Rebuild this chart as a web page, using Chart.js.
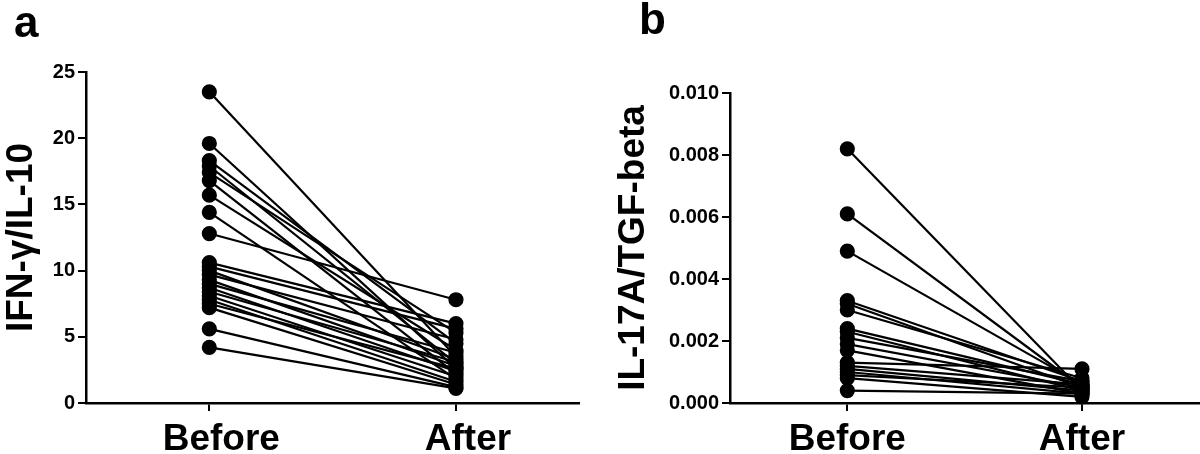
<!DOCTYPE html>
<html lang="en">
<head>
<meta charset="UTF-8">
<title>IFN-γ/IL-10 and IL-17A/TGF-beta before and after</title>
<script src="https://cdn.jsdelivr.net/npm/chart.js"></script>
<style>
  body { margin: 0; background: #fff; }
  #wrap { position: relative; width: 1200px; height: 454px; overflow: hidden; }
  canvas { position: absolute; top: 0; }
  .panel { position: absolute; font: bold 44px "Liberation Sans", Arial, sans-serif; color: #000; }
</style>
</head>
<body>
<div id="wrap">
  <canvas id="chartA" width="588" height="454" style="left:0"></canvas>
  <canvas id="chartB" width="608" height="454" style="left:600px"></canvas>
  <div class="panel" style="left:14px; top:-3px">a</div>
  <div class="panel" style="left:639px; top:-6px">b</div>
</div>
<script>
// categories on the x axis
const groups = ['Before', 'After'];

// panel a: IFN-γ/IL-10, one pair per patient
const ifnBefore = [23.5, 19.6, 18.3, 17.9, 17.4, 16.8, 15.7, 14.4, 12.8, 10.6, 10.3, 10.0,
                   9.7, 9.3, 9.0, 8.7, 8.4, 8.1, 7.8, 7.5, 7.2, 5.6, 4.2];
const ifnAfter  = [3.5, 2.6, 4.5, 3.0, 5.3, 2.2, 4.0, 1.8, 7.8, 6.0, 5.6, 3.3,
                   4.8, 2.8, 3.8, 2.4, 3.1, 2.0, 1.6, 2.6, 1.4, 1.2, 1.1];
const ifnTicks = [0, 5, 10, 15, 20, 25];

// panel b: IL-17A/TGF-beta, one pair per patient
const ilBefore = [0.0082, 0.0061, 0.0049, 0.0033, 0.0032, 0.0030, 0.0024, 0.0023, 0.0021,
                  0.0019, 0.0017, 0.0013, 0.0012, 0.0011, 0.0010, 0.0009, 0.0008, 0.0004];
const ilAfter  = [0.0004, 0.0005, 0.0006, 0.0007, 0.0005, 0.0008, 0.0006, 0.0004, 0.0007,
                  0.0005, 0.0003, 0.0011, 0.0006, 0.0004, 0.0003, 0.0005, 0.0002, 0.0003];
const ilTicks = [0, 0.002, 0.004, 0.006, 0.008, 0.010];

const FONT = '"Liberation Sans", Arial, sans-serif';

function pairs(before, after) {
  return before.map((b, i) => ({
    data: [b, after[i]],
    borderColor: '#000',
    backgroundColor: '#000',
    borderWidth: 2.2,
    pointRadius: 6.5,
    pointHoverRadius: 6.5,
    tension: 0,
    clip: false
  }));
}

function makeChart(id, before, after, ticks, title, yWidth, top, titlePad, labelShift, fmt) {
  return new Chart(document.getElementById(id), {
    type: 'line',
    data: { labels: groups, datasets: pairs(before, after) },
    options: {
      responsive: false,
      animation: false,
      events: [],
      layout: { padding: { top: top, right: 0, left: 0, bottom: 0 } },
      plugins: { legend: { display: false }, tooltip: { enabled: false } },
      scales: {
        x: {
          offset: true,
          grid: { drawOnChartArea: false, color: '#000', lineWidth: 2, tickLength: 8, offset: false },
          border: { color: '#000', width: 2.5 },
          ticks: { color: '#000', padding: 7, labelOffset: labelShift, font: { family: FONT, size: 37, weight: 'bold' } },
          afterFit: s => { s.height = 454 - 403; }
        },
        y: {
          min: 0,
          max: ticks[ticks.length - 1],
          afterBuildTicks: s => { s.ticks = ticks.map(v => ({ value: v })); },
          grid: { drawOnChartArea: false, color: '#000', lineWidth: 2, tickLength: 8 },
          border: { color: '#000', width: 2.5 },
          ticks: { color: '#000', padding: 3, font: { family: FONT, size: 20, weight: 'bold' }, callback: fmt },
          title: { display: true, text: title, color: '#000', padding: { top: titlePad, bottom: 0 },
                   font: { family: FONT, size: 37, weight: 'bold' } },
          afterFit: s => { s.width = yWidth; }
        }
      }
    }
  });
}

makeChart('chartA', ifnBefore, ifnAfter, ifnTicks, 'IFN-γ/IL-10', 86, 72, 0, 12, v => String(v));
makeChart('chartB', ilBefore, ilAfter, ilTicks, 'IL-17A/TGF-beta', 130, 93, 12, 0, v => v.toFixed(3));
</script>
</body>
</html>
